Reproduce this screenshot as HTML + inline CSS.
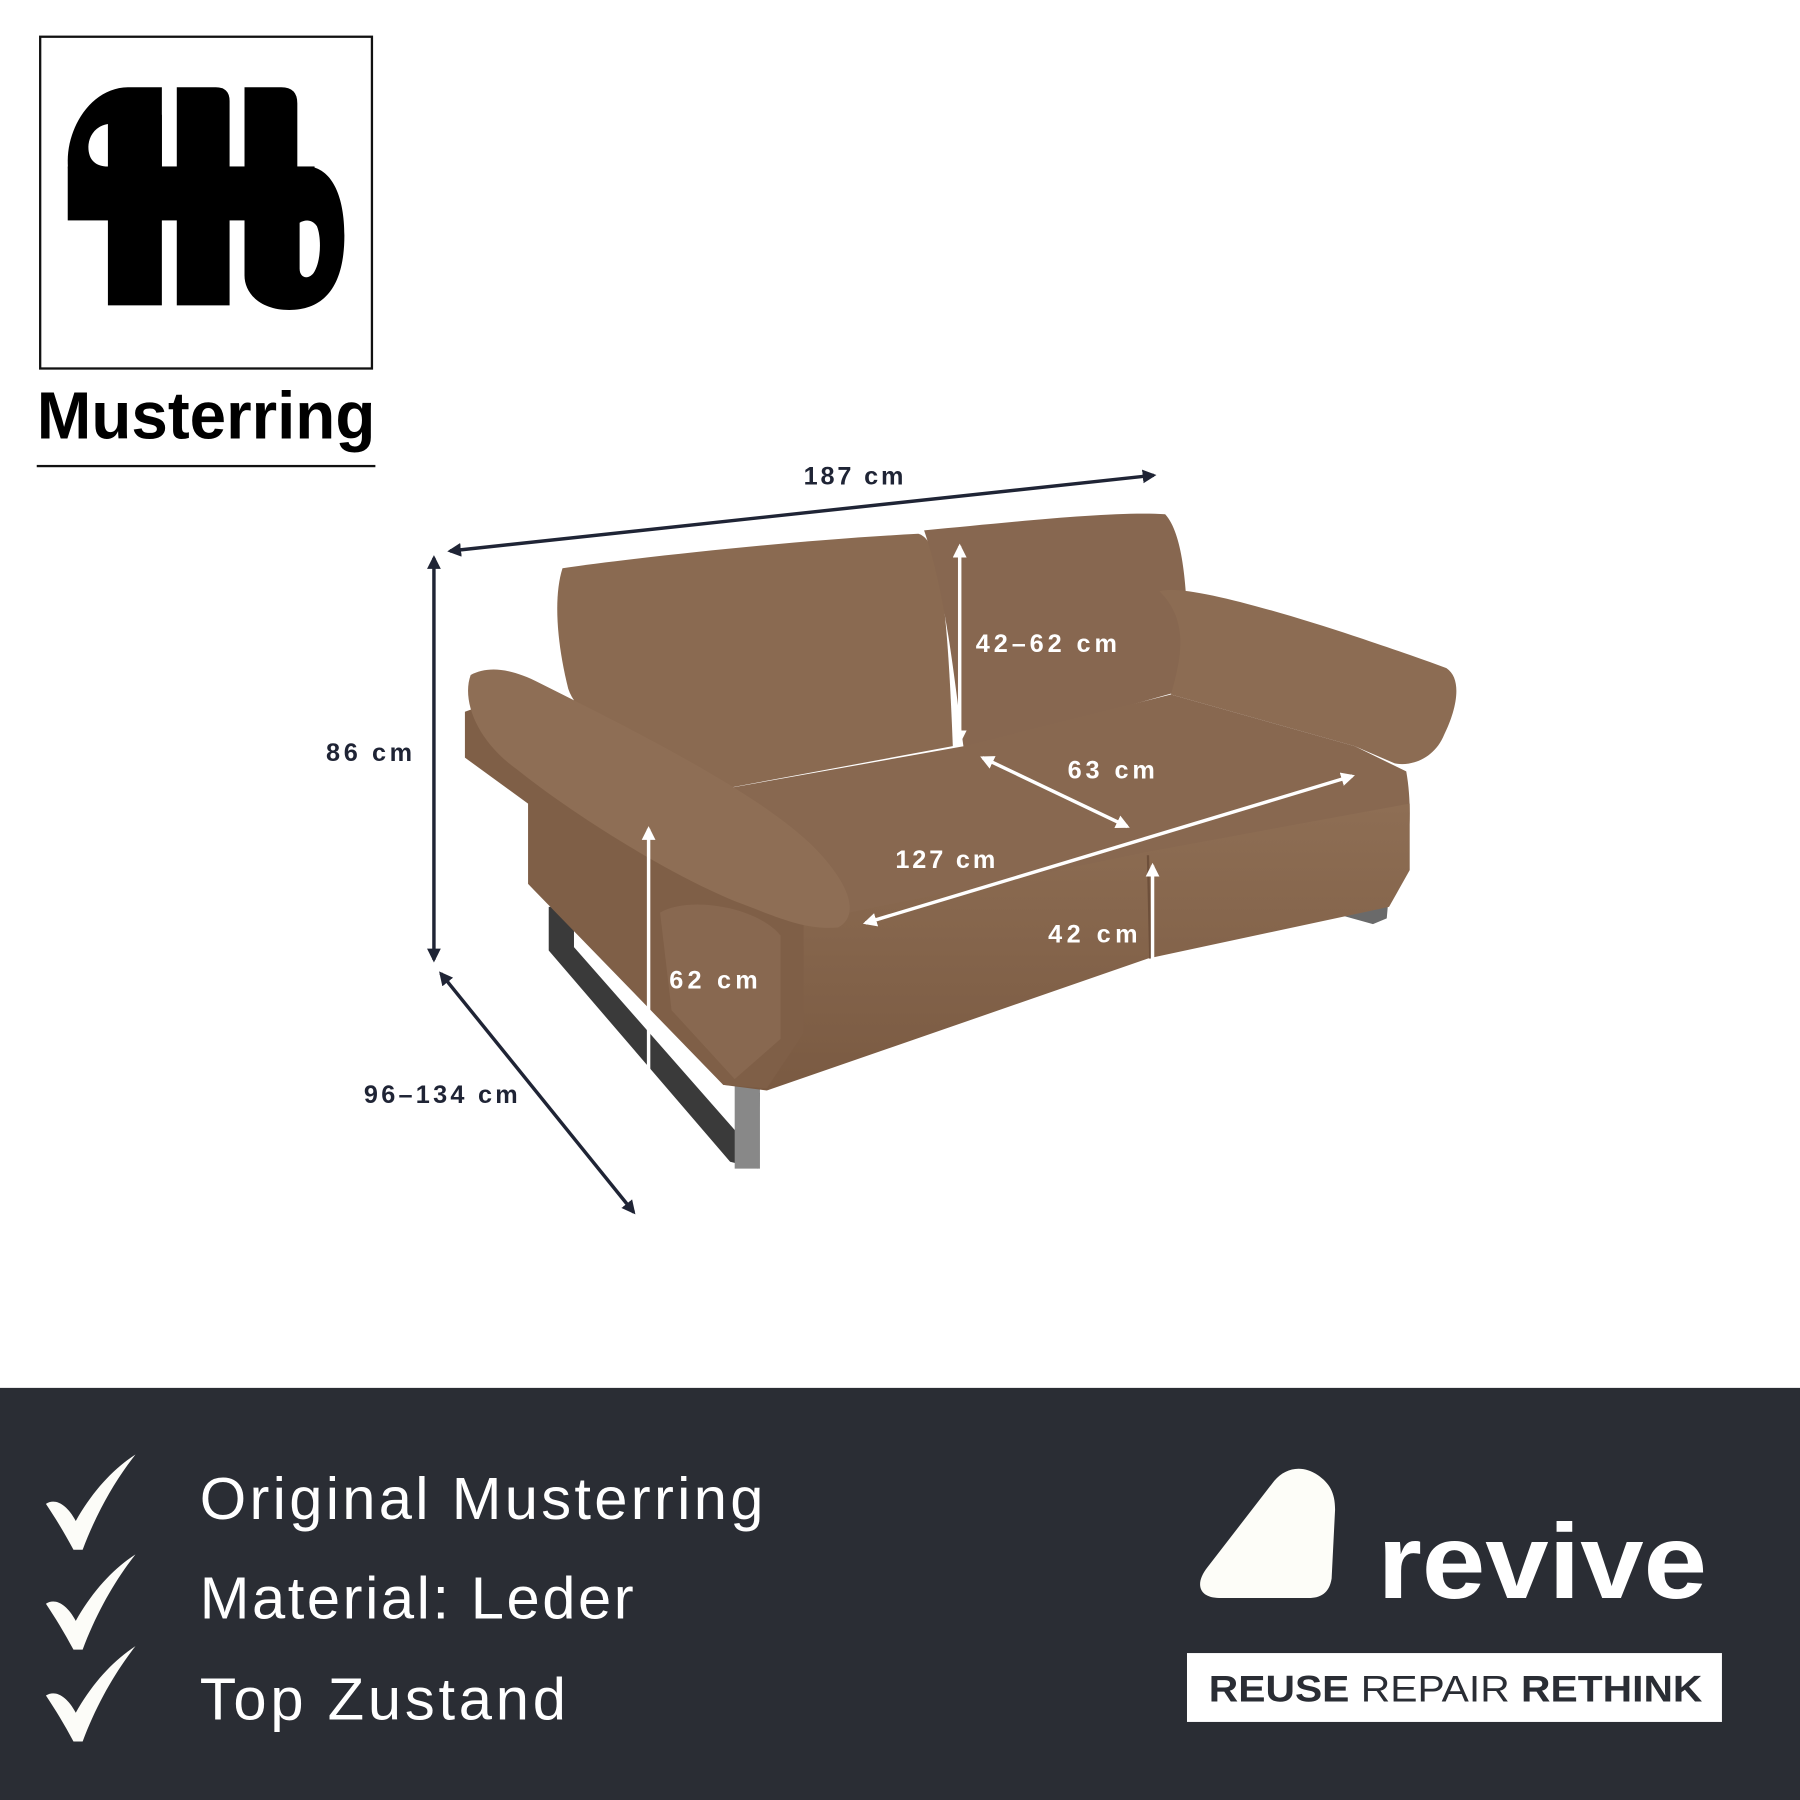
<!DOCTYPE html>
<html><head><meta charset="utf-8">
<style>
html,body{margin:0;padding:0;background:#fff;}
svg{display:block}
</style></head>
<body>
<svg width="1800" height="1800" viewBox="0 0 1568 1568" xmlns="http://www.w3.org/2000/svg" font-family="Liberation Sans, sans-serif">
<defs>
<marker id="ad" viewBox="0 0 10 10" refX="8" refY="5" markerWidth="4" markerHeight="4" orient="auto-start-reverse"><path d="M0,0 L10,5 L0,10 z" fill="#1f2435"/></marker>
<marker id="aw" viewBox="0 0 10 10" refX="8" refY="5" markerWidth="4" markerHeight="4" orient="auto-start-reverse"><path d="M0,0 L10,5 L0,10 z" fill="#fff"/></marker>
<linearGradient id="gb" x1="0" y1="0" x2="0" y2="1"><stop offset="0" stop-color="#8e6e54"/><stop offset="1" stop-color="#7a5a42"/></linearGradient>
</defs>
<rect width="1568" height="1568" fill="#fff"/>
<!-- logo box -->
<rect x="35" y="32" width="289" height="289" fill="none" stroke="#111" stroke-width="2"/>
<g fill="#000">
<path d="M141,76 L112,76 C80,76 59,110 59,140 C59,175 75,192 100,192 L141,192 Z"/>
<rect x="94" y="100" width="47" height="166"/>
<path d="M154,76 L188,76 Q200,76 200,88 L200,266 L154,266 Z"/>
<path d="M213,76 L245,76 Q259,76 259,90 L259,145 L270,145 C290,148 300,172 300,205 C300,250 282,270 252,270 C226,270 213,255 213,240 Z"/>
<rect x="59" y="145" width="215" height="47"/>
</g>
<path d="M94,108 C82,110 77,120 77,128 C77,140 84,145 94,145 Z" fill="#fff"/>
<path d="M261,194 L261,234 C261,242 268,244 273,238 C280,228 280,206 276,197 C272,191 266,191 261,194 Z" fill="#fff"/>
<text x="32" y="382" font-size="58" font-weight="bold" fill="#000" textLength="295" lengthAdjust="spacingAndGlyphs">Musterring</text>
<rect x="32" y="405" width="295" height="2" fill="#111"/>

<!-- sofa -->
<g>
<path d="M478,790 L478,828 L636,1012 L660,1018 L662,952 L645,955 L645,990 L500,825 L500,790 Z" fill="#3a3a3a"/>
<path d="M1200,752 L1212,755 L1208,800 L1196,805 L1160,795 L1170,785 L1195,792 Z" fill="#6a6a6a"/>
<rect x="640" y="940" width="22" height="78" fill="#888"/>
<path d="M490,495 C560,485 700,470 800,465 C818,470 825,520 830,650 L615,690 C560,660 505,630 495,600 C485,560 482,520 490,495 Z" fill="#8a6a51"/>
<path d="M805,462 C880,455 970,445 1015,448 C1035,470 1035,540 1035,600 L840,655 C832,600 825,520 805,462 Z" fill="#876750"/>
<path d="M1010,515 C1040,505 1200,560 1260,582 C1275,592 1268,620 1258,640 C1250,660 1230,668 1215,665 L1180,650 L1020,605 C1030,570 1035,540 1010,515 Z" fill="#8c6c53"/>
<path d="M615,690 L840,650 L1020,605 L1180,650 L1225,672 C1230,700 1228,730 1225,745 L1000,758 L680,825 L620,770 Z" fill="#886850"/>
<path d="M665,810 L1000,742 L1228,700 L1228,758 L1210,790 L1000,835 L668,950 L630,945 Z" fill="url(#gb)"/>
<path d="M1000,745 L1002,835" stroke="#6e503b" stroke-width="2"/>
<path d="M405,620 L460,600 L700,760 L700,900 L668,948 L630,945 L460,770 L460,700 L405,660 Z" fill="#7f5f47"/>
<path d="M575,795 C600,780 660,790 680,815 L680,905 L640,940 L585,880 Z" fill="#886850"/>
<path d="M410,588 C425,580 445,582 470,595 C560,640 680,700 720,750 C745,780 745,800 730,808 C700,810 680,800 640,785 C580,760 500,710 450,670 C415,645 402,610 410,588 Z" fill="#8e6e55"/>
</g>

<g stroke="#1f2435" stroke-width="3" fill="none">
<line x1="392" y1="480" x2="1005" y2="414" marker-start="url(#ad)" marker-end="url(#ad)"/>
<line x1="378" y1="486" x2="378" y2="836" marker-start="url(#ad)" marker-end="url(#ad)"/>
<line x1="384" y1="848" x2="552" y2="1056" marker-start="url(#ad)" marker-end="url(#ad)"/>
</g>
<g stroke="#fff" stroke-width="3" fill="none">
<line x1="836" y1="476" x2="836" y2="646" marker-start="url(#aw)" marker-end="url(#aw)"/>
<line x1="856" y1="660" x2="982" y2="720" marker-start="url(#aw)" marker-end="url(#aw)"/>
<line x1="754" y1="804" x2="1178" y2="676" marker-start="url(#aw)" marker-end="url(#aw)"/>
<line x1="1004" y1="754" x2="1004" y2="880" marker-start="url(#aw)" marker-end="url(#aw)"/>
<line x1="565" y1="722" x2="565" y2="1054" marker-start="url(#aw)" marker-end="url(#aw)"/>
</g>
<g font-size="22" font-weight="bold" lengthAdjust="spacingAndGlyphs">
<text x="700" y="422" fill="#1f2435" textLength="87">187 cm</text>
<text x="284" y="663" fill="#1f2435" textLength="75">86 cm</text>
<text x="317" y="961" fill="#1f2435" textLength="134">96–134 cm</text>
<g fill="#fff">
<text x="850" y="568" textLength="123">42–62 cm</text>
<text x="930" y="678" textLength="76">63 cm</text>
<text x="780" y="756" textLength="87">127 cm</text>
<text x="913" y="821" textLength="78">42 cm</text>
<text x="583" y="861" textLength="77">62 cm</text>
</g>
</g>

<rect x="0" y="1209" width="1568" height="359" fill="#2a2d34"/>
<g fill="#fcfcf8">
<path d="M40,1310 C48,1305 58,1310 66,1325 C80,1300 98,1280 118,1267 C100,1290 84,1318 72,1350 L64,1350 C56,1335 48,1322 40,1310 Z"/>
<path d="M40,1397 C48,1392 58,1397 66,1412 C80,1387 98,1367 118,1354 C100,1377 84,1405 72,1437 L64,1437 C56,1422 48,1409 40,1397 Z"/>
<path d="M40,1477 C48,1472 58,1477 66,1492 C80,1467 98,1447 118,1434 C100,1457 84,1485 72,1517 L64,1517 C56,1502 48,1489 40,1477 Z"/>
</g>
<g fill="#fff" font-size="52" font-weight="300">
<text x="174" y="1323" textLength="491">Original Musterring</text>
<text x="174" y="1410" textLength="378">Material: Leder</text>
<text x="174" y="1498" textLength="319">Top Zustand</text>
</g>
<path d="M1052,1365 L1110,1290 C1120,1278 1135,1276 1148,1285 C1158,1292 1163,1300 1163,1315 L1160,1375 C1158,1388 1150,1392 1140,1392 L1062,1392 C1045,1392 1040,1380 1052,1365 Z" fill="#fdfdf8"/>
<text x="1200" y="1392" font-size="92" font-weight="bold" fill="#fff" textLength="287" lengthAdjust="spacingAndGlyphs">revive</text>
<rect x="1034" y="1440" width="466" height="60" fill="#fff"/>
<text x="1053" y="1482" font-size="32" fill="#2a2d34" textLength="430" lengthAdjust="spacingAndGlyphs"><tspan font-weight="bold">REUSE</tspan> REPAIR <tspan font-weight="bold">RETHINK</tspan></text>
</svg>
</body></html>
